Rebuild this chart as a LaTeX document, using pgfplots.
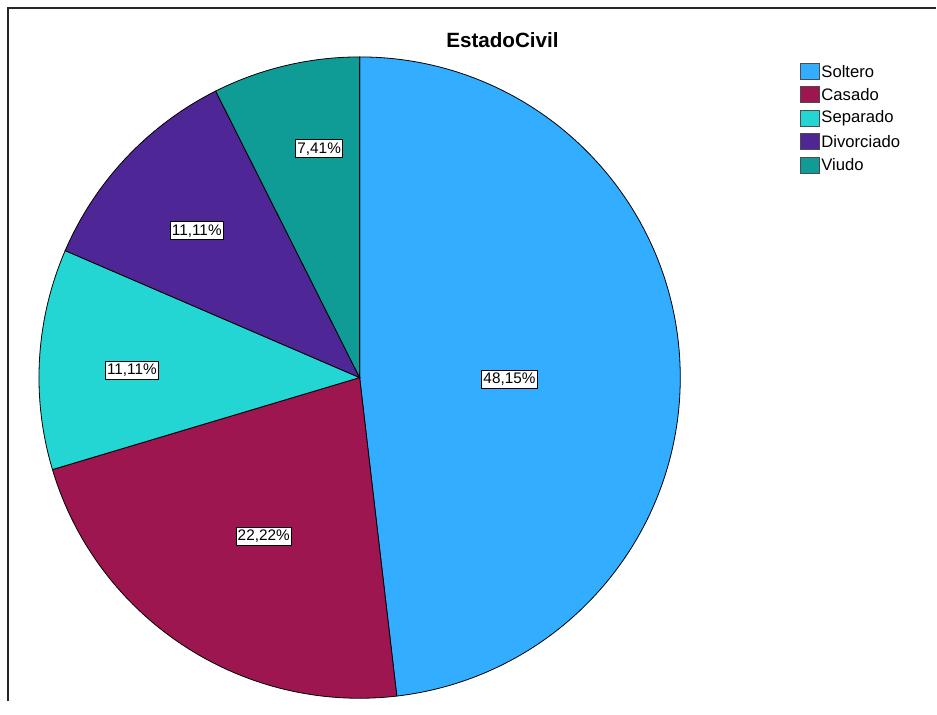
\documentclass[border=0pt]{standalone}
\usepackage{pgfplots}
\pgfplotsset{compat=1.18}
\usepackage{fontspec}
\setmainfont{Liberation Sans}
\definecolor{cSol}{RGB}{51,173,255}
\definecolor{cCas}{RGB}{158,22,80}
\definecolor{cSep}{RGB}{35,214,211}
\definecolor{cDiv}{RGB}{79,38,150}
\definecolor{cViu}{RGB}{16,156,150}
\begin{document}
\begin{tikzpicture}
% percentages of each category
\def\vSol{48.15}\def\vCas{22.22}\def\vSep{11.11}\def\vDiv{11.11}\def\vViu{7.41}
\pgfmathsetmacro\aA{90}
\pgfmathsetmacro\aB{\aA-3.6*\vSol}
\pgfmathsetmacro\aC{\aB-3.6*\vCas}
\pgfmathsetmacro\aD{\aC-3.6*\vSep}
\pgfmathsetmacro\aE{\aD-3.6*\vDiv}
\pgfmathsetmacro\aF{\aE-3.6*\vViu}
\def\R{321}\def\Rpt{240.75pt}
\def\cx{360}\def\cy{324}
\begin{axis}[x=0.75pt,y=0.75pt,xmin=0,xmax=937,ymin=0,ymax=702,hide axis,clip=false,
  scale only axis]
\path (axis cs:0,0) rectangle (axis cs:937,702);
\draw[line width=1.5pt,black!85] (axis cs:8,0) -- (axis cs:8,694) -- (axis cs:937,694);
\foreach \s/\e/\c in {aA/aB/cSol,aC/aD/cSep}{}
\filldraw[fill=cSol,draw=black,line width=0.6pt] (axis cs:\cx,\cy) -- (axis cs:{\cx+\R*cos(\aA)},{\cy+\R*sin(\aA)}) arc[start angle=\aA,end angle=\aB,radius=\Rpt] -- cycle;
\filldraw[fill=cCas,draw=black,line width=0.6pt] (axis cs:\cx,\cy) -- (axis cs:{\cx+\R*cos(\aB)},{\cy+\R*sin(\aB)}) arc[start angle=\aB,end angle=\aC,radius=\Rpt] -- cycle;
\filldraw[fill=cSep,draw=black,line width=0.6pt] (axis cs:\cx,\cy) -- (axis cs:{\cx+\R*cos(\aC)},{\cy+\R*sin(\aC)}) arc[start angle=\aC,end angle=\aD,radius=\Rpt] -- cycle;
\filldraw[fill=cDiv,draw=black,line width=0.6pt] (axis cs:\cx,\cy) -- (axis cs:{\cx+\R*cos(\aD)},{\cy+\R*sin(\aD)}) arc[start angle=\aD,end angle=\aE,radius=\Rpt] -- cycle;
\filldraw[fill=cViu,draw=black,line width=0.6pt] (axis cs:\cx,\cy) -- (axis cs:{\cx+\R*cos(\aE)},{\cy+\R*sin(\aE)}) arc[start angle=\aE,end angle=\aF,radius=\Rpt] -- cycle;
\tikzset{lab/.style={draw=black,fill=white,line width=0.6pt,inner xsep=1.2pt,inner ysep=2pt,font=\fontsize{11.5}{12}\selectfont}}
\node[lab] at (axis cs:510,322.5) {48,15\%};
\node[lab] at (axis cs:264,165) {22,22\%};
\node[lab] at (axis cs:132,331) {11,11\%};
\node[lab] at (axis cs:197,471) {11,11\%};
\node[lab] at (axis cs:319.5,553) {7,41\%};
\node[font=\fontsize{15.5}{16}\selectfont\bfseries] at (axis cs:503,662) {EstadoCivil};
\tikzset{leg/.style={anchor=west,inner sep=0pt,font=\fontsize{12.5}{13}\selectfont},
  sq/.style={draw=black!70,line width=0.4pt}}
\filldraw[sq,fill=cSol] (axis cs:801,623) rectangle (axis cs:820,639);
\node[leg] at (axis cs:822,630) {Soltero};
\filldraw[sq,fill=cCas] (axis cs:801,599.5) rectangle (axis cs:820,615.5);
\node[leg] at (axis cs:822,607.5) {Casado};
\filldraw[sq,fill=cSep] (axis cs:801,576) rectangle (axis cs:820,592);
\node[leg] at (axis cs:822,584) {Separado};
\filldraw[sq,fill=cDiv] (axis cs:801,552.5) rectangle (axis cs:820,568.5);
\node[leg] at (axis cs:822,560.5) {Divorciado};
\filldraw[sq,fill=cViu] (axis cs:801,529) rectangle (axis cs:820,545);
\node[leg] at (axis cs:822,537) {Viudo};
\end{axis}
\end{tikzpicture}
\end{document}
